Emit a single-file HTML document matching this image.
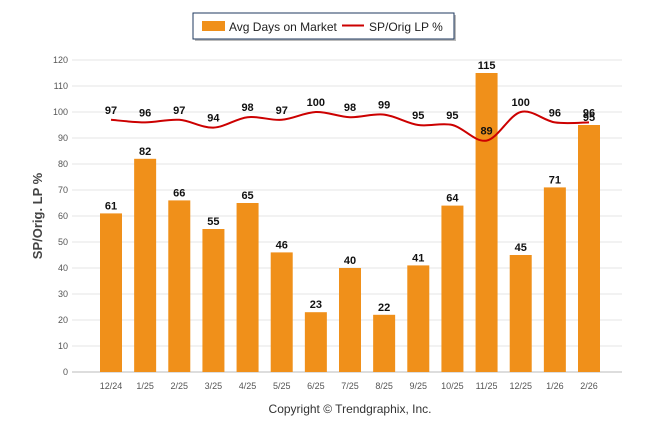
<!DOCTYPE html>
<html><head><meta charset="utf-8"><style>
body{margin:0;background:#fff;font-family:"Liberation Sans",Arial,sans-serif}
svg text{font-family:"Liberation Sans",Arial,sans-serif}
</style></head><body>
<svg id="c" width="646" height="434" xmlns="http://www.w3.org/2000/svg">
<rect x="195" y="15" width="261" height="26" fill="#bbb"/>
<rect x="193" y="13" width="261" height="26" fill="#fff" stroke="#1f3a5f" stroke-width="1"/>
<rect x="202" y="21" width="23" height="10" fill="#f0901a"/>
<text x="229" y="31" font-size="12" fill="#222">Avg Days on Market</text>
<line x1="342" y1="25.5" x2="364" y2="25.5" stroke="#cc0000" stroke-width="2"/>
<text x="369" y="31" font-size="12" fill="#222">SP/Orig LP %</text>
<text transform="translate(42,216) rotate(-90)" text-anchor="middle" font-size="13" font-weight="bold" fill="#444">SP/Orig. LP %</text>
<text x="350" y="413" text-anchor="middle" font-size="12" fill="#333">Copyright © Trendgraphix, Inc.</text>
<g id="g"></g>
</svg>
<script>
const categories=["12/24","1/25","2/25","3/25","4/25","5/25","6/25","7/25","8/25","9/25","10/25","11/25","12/25","1/26","2/26"];
const daysValues=[61,82,66,55,65,46,23,40,22,41,64,115,45,71,95];
const spValues=[97,96,97,94,98,97,100,98,99,95,95,89,100,96,96];
const yTicks=[0,10,20,30,40,50,60,70,80,90,100,110,120];
const NS="http://www.w3.org/2000/svg";
const g=document.getElementById('g');
const X0=72,X1=622,Y0=372,Y1=60;
const FIRST=111,LAST=589;
const step=(LAST-FIRST)/(categories.length-1);
const xs=i=>FIRST+step*i;
const ys=v=>Y0-(v/120)*(Y0-Y1);
function mk(t,a){const e=document.createElementNS(NS,t);for(const k in a)e.setAttribute(k,a[k]);g.appendChild(e);return e;}
yTicks.forEach(v=>{
 const l=mk('line',{x1:X0,x2:X1,y1:ys(v),y2:ys(v),stroke:'#e6e6e6'});
 
 
 const t=mk('text',{x:X0-4,y:ys(v)+3,'text-anchor':'end','font-size':'9',fill:'#555'});t.textContent=v;
 
 
});
const ax=mk('line',{x1:X0,x2:X1,y1:Y0,y2:Y0,stroke:'#bbb'});


categories.forEach((c,i)=>{
 const x=xs(i),v=daysValues[i];
 const r=mk('rect',{x:x-11,y:ys(v),width:22,height:Y0-ys(v),fill:'#f0901a'});
 
 
 const t=mk('text',{x:x,y:ys(v)-4,'text-anchor':'middle','font-size':'11','font-weight':'bold',fill:'#111'});t.textContent=v;
 
 
 const xt=mk('text',{x:x,y:Y0+17,'text-anchor':'middle','font-size':'9',fill:'#555'});xt.textContent=c;
 
 
});
const pts=spValues.map((v,i)=>[xs(i),ys(v)]);
let d='M'+pts[0][0]+','+pts[0][1];
for(let i=0;i<pts.length-1;i++){
 const p0=pts[i-1]||pts[i],p1=pts[i],p2=pts[i+1],p3=pts[i+2]||p2;
 const c1=[p1[0]+(p2[0]-p0[0])/6,p1[1]+(p2[1]-p0[1])/6];
 const c2=[p2[0]-(p3[0]-p1[0])/6,p2[1]-(p3[1]-p1[1])/6];
 d+=` C${c1[0]},${c1[1]} ${c2[0]},${c2[1]} ${p2[0]},${p2[1]}`;
}
const line=mk('path',{d:d,fill:'none',stroke:'#cc0000','stroke-width':2});


spValues.forEach((v,i)=>{
 const t=mk('text',{x:xs(i),y:ys(v)-6,'text-anchor':'middle','font-size':'11','font-weight':'bold',fill:'#111'});t.textContent=v;
 
 
});
</script>
</body></html>
